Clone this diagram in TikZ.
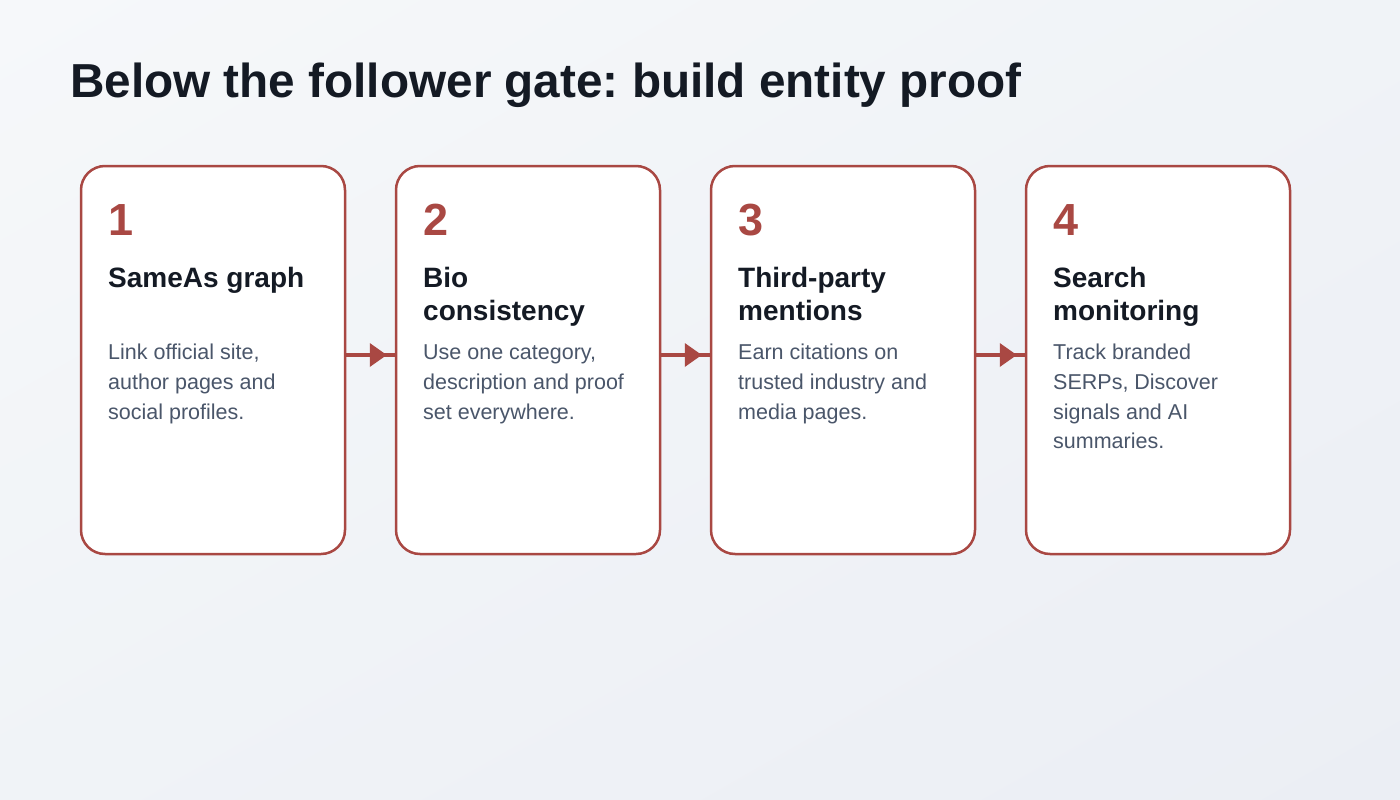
\documentclass[tikz,border=0pt]{standalone}
\usepackage{fontspec}
\setmainfont{Liberation Sans}
\frenchspacing
\usetikzlibrary{arrows.meta,calc,shadings}
\definecolor{accent}{HTML}{A94843}
\definecolor{titlec}{HTML}{141A24}
\definecolor{headc}{HTML}{141A24}
\definecolor{bodyc}{HTML}{4A566A}
\definecolor{bgA}{HTML}{F6F8FA}
\definecolor{bgB}{HTML}{F0F3F7}
\definecolor{bgC}{HTML}{EBEEF4}
\tikzset{
  card/.style={draw=accent, line width=2.5pt, fill=white, rounded corners=24pt,
    minimum width=264pt, minimum height=388pt, inner sep=0pt},
  numtxt/.style={text=accent, font=\fontsize{45}{50}\selectfont\bfseries, inner sep=0pt, anchor=base west},
  headtxt/.style={text=headc, font=\fontsize{28}{33.8}\selectfont\bfseries, inner sep=0pt, align=left, anchor=base west},
  bodytxt/.style={text=bodyc, font=\fontsize{21.5}{29.7}\selectfont, inner sep=0pt, align=left, anchor=base west},
  link/.style={draw=accent, line width=4pt},
  linktip/.style={draw=accent, fill=accent, line width=0pt, -{Triangle[length=17pt,width=24pt]}, shorten >=8pt}
}
\begin{document}
\begin{tikzpicture}[x=1pt,y=-1pt]
\shade[upper left=bgA, upper right=bgB, lower left=bgB, lower right=bgC] (0,0) rectangle (1400,800);
\useasboundingbox (0,0) rectangle (1400,800);
\node[text=titlec, font=\fontsize{47.7}{54}\selectfont\bfseries, inner sep=0pt, anchor=base west] (title) at (70,97) {Below the follower gate: build entity proof};

\node[card] (c1) at (213,360) {};
\node[card] (c2) at (528,360) {};
\node[card] (c3) at (843,360) {};
\node[card] (c4) at (1158,360) {};

\foreach \a/\b in {c1/c2,c2/c3,c3/c4}{
  \draw[link] ($(\a.east)+(0,-5)$) -- ($(\b.west)+(0,-5)$);
  \draw[linktip] ($(\a.east)+(0,-5)$) -- ($(\b.west)+(0,-5)$);
}

\node[numtxt] (n1) at (108,235.5) {1};
\node[numtxt] (n2) at (423,235.5) {2};
\node[numtxt] (n3) at (738,235.5) {3};
\node[numtxt] (n4) at (1053,235.5) {4};

% base anchor of a multi-line node lies on its last line
\node[headtxt] (h1) at (108,287) {SameAs graph};
\node[headtxt] (h2) at (423,320.8) {Bio\\consistency};
\node[headtxt] (h3) at (738,320.8) {Third-party\\mentions};
\node[headtxt] (h4) at (1053,320.8) {Search\\monitoring};

\node[bodytxt] (b1) at (108,419) {Link official site,\\author pages and\\social profiles.};
\node[bodytxt] (b2) at (423,419) {Use one category,\\description and proof\\set everywhere.};
\node[bodytxt] (b3) at (738,419) {Earn citations on\\trusted industry and\\media pages.};
\node[bodytxt] (b4) at (1053,448.7) {Track branded\\SERPs, Discover\\signals and AI\\summaries.};
\end{tikzpicture}
\end{document}
